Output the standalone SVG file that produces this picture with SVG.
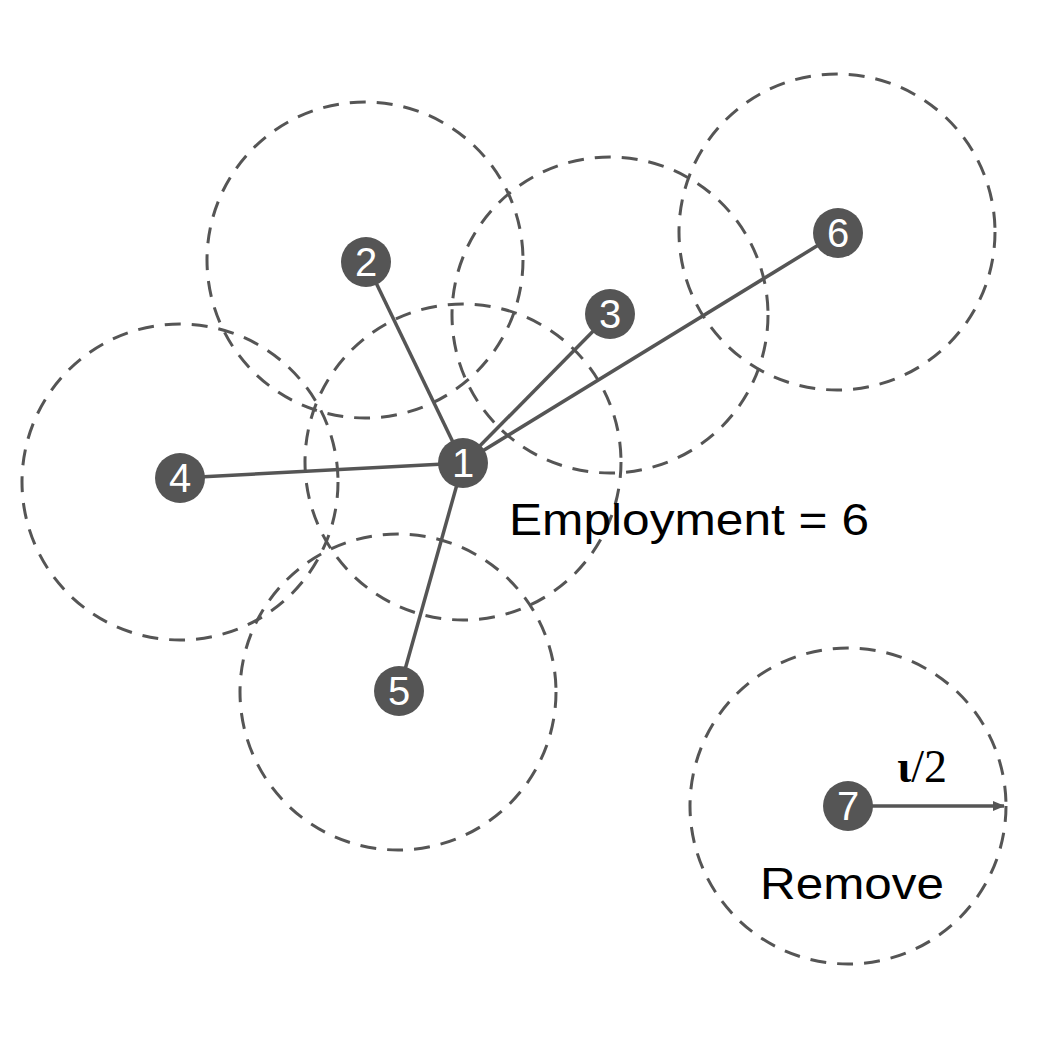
<svg xmlns="http://www.w3.org/2000/svg" width="1043" height="1042" viewBox="0 0 1043 1042">
<defs>
<style>
.c{fill:none;stroke:#555;stroke-width:3;stroke-dasharray:16 11}
.e{stroke:#555;stroke-width:3.5;fill:none}
.n{fill:#555}
.t{fill:#fff;font-family:"Liberation Sans",Arial,sans-serif;font-size:40px;text-anchor:middle}
.l{fill:#000;font-family:"Liberation Sans",Arial,sans-serif;font-size:45px}
</style>
<marker id="ah" markerWidth="12" markerHeight="10" refX="11" refY="5" orient="auto" markerUnits="userSpaceOnUse"><path d="M0,0 L12,5 L0,10 Z" fill="#555"/></marker>
</defs>
<rect width="1043" height="1042" fill="#fff"/>
<g id="ranges">
<circle class="c" cx="365" cy="260" r="158"/>
<circle class="c" cx="463" cy="462" r="158"/>
<circle class="c" cx="610" cy="315" r="158"/>
<circle class="c" cx="837" cy="232" r="158"/>
<circle class="c" cx="180" cy="482" r="158"/>
<circle class="c" cx="398" cy="692" r="158"/>
<circle class="c" cx="848" cy="806" r="158"/>
</g>
<g id="connectors">
<line class="e" x1="463" y1="463" x2="366" y2="262"/>
<line class="e" x1="463" y1="463" x2="610" y2="314"/>
<line class="e" x1="463" y1="463" x2="838" y2="233"/>
<line class="e" x1="463" y1="463" x2="180" y2="478"/>
<line class="e" x1="463" y1="463" x2="399" y2="691"/>
<line class="e" x1="848" y1="806" x2="1004" y2="806" marker-end="url(#ah)"/>
</g>
<g id="node1"><circle class="n" cx="463" cy="463" r="25"/><text class="t" x="463" y="477">1</text></g>
<g id="node2"><circle class="n" cx="366" cy="262" r="25"/><text class="t" x="366" y="276">2</text></g>
<g id="node3"><circle class="n" cx="610" cy="314" r="25"/><text class="t" x="610" y="328">3</text></g>
<g id="node4"><circle class="n" cx="180" cy="478" r="25"/><text class="t" x="180" y="492">4</text></g>
<g id="node5"><circle class="n" cx="399" cy="691" r="25"/><text class="t" x="399" y="705">5</text></g>
<g id="node6"><circle class="n" cx="838" cy="233" r="25"/><text class="t" x="838" y="247">6</text></g>
<g id="node7"><circle class="n" cx="848" cy="806" r="25"/><text class="t" x="848" y="820">7</text></g>
<text class="l" x="509" y="535" textLength="360" lengthAdjust="spacingAndGlyphs">Employment = 6</text>
<text class="l" x="760" y="899" textLength="184" lengthAdjust="spacingAndGlyphs">Remove</text>
<text x="897" y="782" style="font-family:'Liberation Serif','Times New Roman',serif;font-size:46px;fill:#000"><tspan font-weight="bold">ι</tspan>/2</text>
</svg>
